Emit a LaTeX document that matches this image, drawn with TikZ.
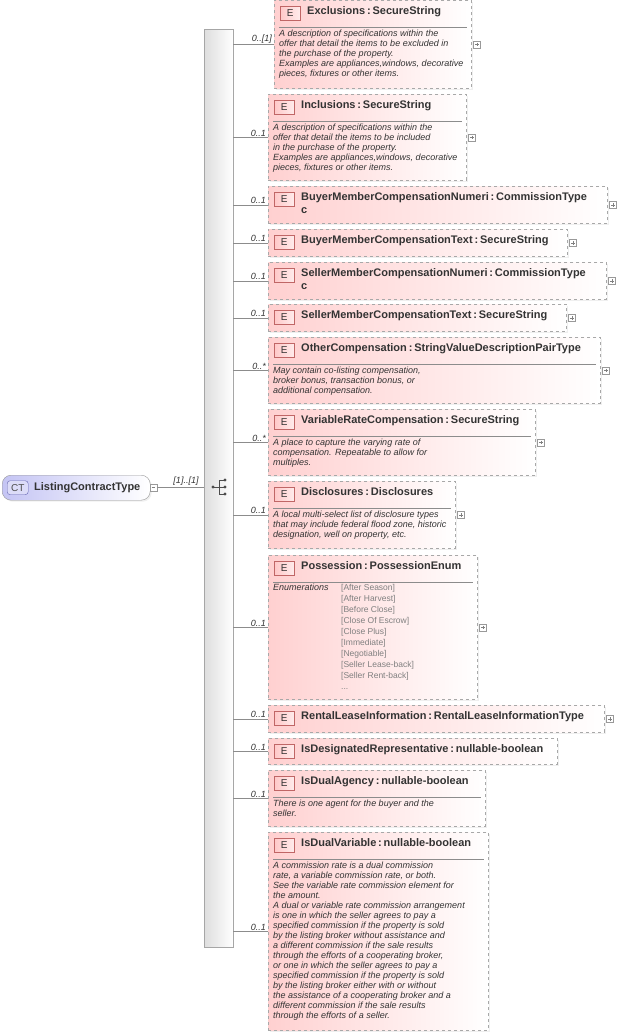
\documentclass[tikz,border=0pt]{standalone}
\usepackage{fontspec}
\setmainfont{Liberation Sans}
\usetikzlibrary{calc,shadows}
\definecolor{epink}{HTML}{FFD0D0}
\definecolor{eborder}{HTML}{A8A8A8}
\definecolor{ered}{HTML}{B04040}
\definecolor{ctblue}{HTML}{C4C4F4}
\tikzset{
  ebox/.style={draw=eborder,dashed,line width=0.8pt,left color=epink,right color=white,anchor=north west,inner sep=0pt,
    drop shadow={shadow xshift=1.5pt,shadow yshift=-1.5pt,fill=black!12}},
  eicon/.style={draw=ered!80,line width=0.6pt,left color=epink!70!red!50,right color=epink!40,anchor=north west,minimum width=20pt,minimum height=14pt,inner sep=0pt,font=\fontsize{10}{10}\selectfont,text=black!80},
  etitle/.style={anchor=north west,inner sep=0pt,font=\bfseries\fontsize{11}{13}\selectfont,text=black!80,align=left},
  edesc/.style={anchor=north west,inner sep=0pt,font=\itshape\fontsize{9}{10}\selectfont,text=black!80,align=left},
  card/.style={anchor=south east,inner sep=1pt,font=\itshape\fontsize{9}{9}\selectfont,text=black!80},
  conn/.style={draw=black!45,line width=0.7pt},
  pbox/.style={draw=black!40,fill=white,minimum size=7pt,inner sep=0pt,line width=0.5pt,
    path picture={\draw[black!50,line width=0.5pt] ([xshift=1.7pt]path picture bounding box.west)--([xshift=-1.7pt]path picture bounding box.east) ([yshift=-1.7pt]path picture bounding box.north)--([yshift=1.7pt]path picture bounding box.south);}},
  enum/.style={anchor=north west,inner sep=0pt,font=\fontsize{8.5}{11}\selectfont,text=black!50,align=left},
}
% id, x, y, w, h, cardinality, title
\newcommand\ebox[7]{%
  \node[ebox,minimum width=#4pt,minimum height=#5pt] (#1) at (#2,#3) {};
  \node[eicon] (#1-i) at ($(#1.north west)+(6,6)$) {E};
  \node[etitle] (#1-t) at ($(#1.north west)+(33,6)$) {#7};
  \draw[conn] (#1.west -| bar.east) -- (#1.west);
  \node[card] (#1-c) at ($(#1.west)+(-1,0)$) {#6};
}
\newcommand\edsc[2]{%
  \draw[black!45,line width=0.6pt] ($(#1.north west)+(5,27)$) -- ($(#1.north east)+(-5,27)$);
  \node[edesc] (#1-d) at ($(#1.north west)+(5,30)$) {#2};
}
\newcommand\eplus[1]{\node[pbox] (#1-p) at ($(#1.east)+(5,0)$) {};}
\begin{document}
\begin{tikzpicture}[x=1pt,y=-1pt]
\useasboundingbox (0,0) rectangle (617,1035);
% bar
\node[draw=black!35,left color=black!13,right color=white,anchor=north west,minimum width=29pt,minimum height=918pt,inner sep=0pt] (bar) at (204,29) {};
% CT node
\node[draw=black!40,rounded corners=9pt,left color=ctblue,right color=white,anchor=north west,minimum width=148pt,minimum height=25pt,inner sep=0pt,
  drop shadow={shadow xshift=1.5pt,shadow yshift=-1.5pt,fill=black!12}] (ct) at (2,475) {};
\node[draw=blue!50!black!60,rounded corners=3pt,fill=ctblue!60,anchor=west,minimum width=21pt,minimum height=14pt,inner sep=0pt,font=\fontsize{10}{10}\selectfont,text=black!70] (ct-i) at ($(ct.west)+(5,0)$) {CT};
\node[anchor=west,inner sep=0pt,font=\bfseries\fontsize{11}{12}\selectfont,text=black!80] (ct-t) at ($(ct.west)+(32,0)$) {ListingContractType};
\node[draw=black!40,fill=white,minimum size=7pt,inner sep=0pt,line width=0.5pt,path picture={\draw[black!50] ([xshift=1.7pt]path picture bounding box.west)--([xshift=-1.7pt]path picture bounding box.east);}] (ct-m) at ($(ct.east)+(3,0)$) {};
\draw[conn] (ct-m.east) -- (ct-m.east -| bar.west);
\node[card,anchor=south] (ct-c) at (186,487) {[1]..[1]};
% sequence icon
\fill[black!70] (213,487) circle (1.7) (225,480) circle (1.7) (225,487) circle (1.7) (225,494) circle (1.7);
\draw[black!70,line width=0.8pt] (213,487)--(219,487) (219,480)--(219,494) (219,480)--(225,480) (219,487)--(225,487) (219,494)--(225,494);
% elements
\ebox{exc}{274}{0}{197}{88}{0..[1]}{Exclusions\,:\,SecureString}
\edsc{exc}{A description of specifications within the\\offer that detail the items to be excluded in\\the purchase of the property.\\Examples are appliances,windows, decorative\\pieces, fixtures or other items.}
\eplus{exc}
\ebox{inc}{268}{94}{198}{86}{0..1}{Inclusions\,:\,SecureString}
\edsc{inc}{A description of specifications within the\\offer that detail the items to be included\\in the purchase of the property.\\Examples are appliances,windows, decorative\\pieces, fixtures or other items.}
\eplus{inc}
\ebox{bmn}{268}{186}{339}{37}{0..1}{BuyerMemberCompensationNumeri\,:\,CommissionType\\c}
\eplus{bmn}
\ebox{bmt}{268}{229}{299}{27}{0..1}{BuyerMemberCompensationText\,:\,SecureString}
\eplus{bmt}
\ebox{smn}{268}{262}{338}{37}{0..1}{SellerMemberCompensationNumeri\,:\,CommissionType\\c}
\eplus{smn}
\ebox{smt}{268}{304}{298}{27}{0..1}{SellerMemberCompensationText\,:\,SecureString}
\eplus{smt}
\ebox{oth}{268}{337}{332}{66}{0..*}{OtherCompensation\,:\,StringValueDescriptionPairType}
\edsc{oth}{May contain co-listing compensation,\\broker bonus, transaction bonus, or\\additional compensation.}
\eplus{oth}
\ebox{var}{268}{409}{267}{66}{0..*}{VariableRateCompensation\,:\,SecureString}
\edsc{var}{A place to capture the varying rate of\\compensation. Repeatable to allow for\\multiples.}
\eplus{var}
\ebox{dis}{268}{481}{187}{67}{0..1}{Disclosures\,:\,Disclosures}
\edsc{dis}{A local multi-select list of disclosure types\\that may include federal flood zone, historic\\designation, well on property, etc.}
\eplus{dis}
\ebox{pos}{268}{555}{209}{144}{0..1}{Possession\,:\,PossessionEnum}
\draw[black!45,line width=0.6pt] ($(pos.north west)+(5,27)$) -- ($(pos.north east)+(-5,27)$);
\node[edesc] (pos-e) at ($(pos.north west)+(5,29)$) {Enumerations};
\node[enum] (pos-l) at ($(pos.north west)+(73,29)$) {{[After Season]}\\{[After Harvest]}\\{[Before Close]}\\{[Close Of Escrow]}\\{[Close Plus]}\\{[Immediate]}\\{[Negotiable]}\\{[Seller Lease-back]}\\{[Seller Rent-back]}\\...};
\eplus{pos}
\ebox{ren}{268}{705}{336}{27}{0..1}{RentalLeaseInformation\,:\,RentalLeaseInformationType}
\eplus{ren}
\ebox{isd}{268}{738}{289}{26}{0..1}{IsDesignatedRepresentative\,:\,nullable-boolean}
\ebox{ida}{268}{770}{217}{56}{0..1}{IsDualAgency\,:\,nullable-boolean}
\edsc{ida}{There is one agent for the buyer and the\\seller.}
\ebox{idv}{268}{832}{220}{198}{0..1}{IsDualVariable\,:\,nullable-boolean}
\edsc{idv}{A commission rate is a dual commission\\rate, a variable commission rate, or both.\\See the  variable rate commission element for\\the amount.\\A dual or variable rate commission arrangement\\is one in which the seller agrees to pay a\\specified commission if the property is sold\\by the listing broker without assistance and\\a different commission if the sale results\\through the efforts of a cooperating broker,\\or one in which the seller agrees to pay a\\specified commission if the property is sold\\by the listing broker either with or without\\the assistance of a cooperating broker and a\\different commission if the sale results\\through the efforts of a seller.}
\end{tikzpicture}
\end{document}
